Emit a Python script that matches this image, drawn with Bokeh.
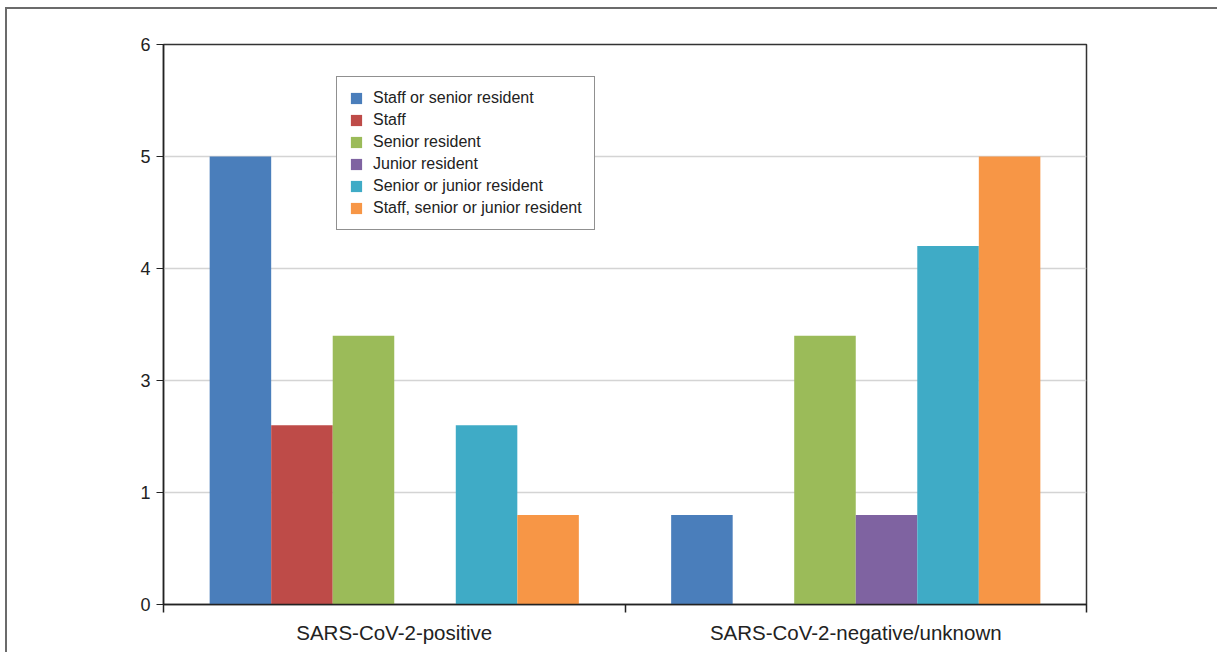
from bokeh.plotting import figure
from bokeh.models import FixedTicker, Range1d, Legend, LegendItem
from bokeh.layouts import column
from bokeh.embed import file_html
from bokeh.resources import INLINE

categories = ["SARS-CoV-2-positive", "SARS-CoV-2-negative/unknown"]
series = ["Staff or senior resident", "Staff", "Senior resident",
          "Junior resident", "Senior or junior resident",
          "Staff, senior or junior resident"]
colors = ["#4a7ebb", "#be4b48", "#9bbb59", "#7f63a1", "#3fabc6", "#f79646"]
# values in axis-gridline units (gridlines labelled 0,1,3,4,5,6 as in the source)
values = {
    "Staff or senior resident": [4.0, 0.8],
    "Staff": [1.6, 0.0],
    "Senior resident": [2.4, 2.4],
    "Junior resident": [0.0, 0.8],
    "Senior or junior resident": [1.6, 3.2],
    "Staff, senior or junior resident": [0.8, 4.0],
}
y_ticks = [0, 1, 2, 3, 4, 5]
y_tick_labels = ["0", "1", "3", "4", "5", "6"]

FONT = "Liberation Sans"

p = figure(frame_width=923, frame_height=560, output_backend="svg",
           toolbar_location=None, x_range=Range1d(0, 2), y_range=Range1d(0, 5),
           min_border_left=156, min_border_top=35, min_border_right=131,
           min_border_bottom=48, background_fill_color="white",
           border_fill_color="white")
p.outline_line_color = "#333333"
p.outline_line_width = 1.5

n = len(series)
group_w = 0.8
bw = group_w / n
items = []
for i, s in enumerate(series):
    xs = [ci + 0.5 - group_w / 2 + bw * (i + 0.5) for ci in range(len(categories))]
    r = p.vbar(x=xs, top=values[s], width=bw, color=colors[i], line_color=None)
    items.append(LegendItem(label=s, renderers=[r]))

# axes
p.xgrid.visible = False
p.ygrid.grid_line_color = "#d4d4d4"
p.ygrid.grid_line_width = 1.5
p.yaxis.ticker = FixedTicker(ticks=y_ticks)
p.yaxis.major_label_overrides = {t: l for t, l in zip(y_ticks, y_tick_labels)}
p.yaxis.minor_tick_line_color = None
p.yaxis.major_tick_in = 0
p.yaxis.major_tick_out = 7
p.yaxis.major_label_standoff = 6
p.yaxis.axis_line_color = "#222222"
p.yaxis.axis_line_width = 1.5
p.yaxis.major_tick_line_color = "#222222"
p.yaxis.major_label_text_font = FONT
p.yaxis.major_label_text_font_size = "18px"
p.yaxis.major_label_text_color = "#222222"

p.xaxis.ticker = FixedTicker(ticks=[0.5, 1.5], minor_ticks=[0, 1, 2])
p.xaxis.major_label_overrides = {0.5: categories[0], 1.5: categories[1]}
p.xaxis.major_tick_in = 0
p.xaxis.major_tick_out = 0
p.xaxis.minor_tick_in = 0
p.xaxis.minor_tick_out = 8
p.xaxis.minor_tick_line_color = "#222222"
p.xaxis.minor_tick_line_width = 1.5
p.xaxis.axis_line_color = "#222222"
p.xaxis.axis_line_width = 1.5
p.xaxis.major_label_standoff = 8
p.xaxis.major_label_text_font = FONT
p.xaxis.major_label_text_font_size = "20.5px"
p.xaxis.major_label_text_color = "#222222"

legend = Legend(items=items, location=(173, 374), margin=0, padding=12,
                spacing=4, glyph_width=14, glyph_height=14, label_height=16,
                label_standoff=10, label_text_font=FONT,
                label_text_font_size="16px", label_text_color="#222222",
                border_line_color="#222222", border_line_width=1.5,
                background_fill_color="white", background_fill_alpha=1.0)
p.add_layout(legend, "center")

root = column(p, margin=(7, 0, 0, 5),
              styles={"border-top": "2px solid #6b6b6b",
                      "border-left": "2px solid #6b6b6b"})

open("out.html", "w").write(file_html(root, INLINE))
